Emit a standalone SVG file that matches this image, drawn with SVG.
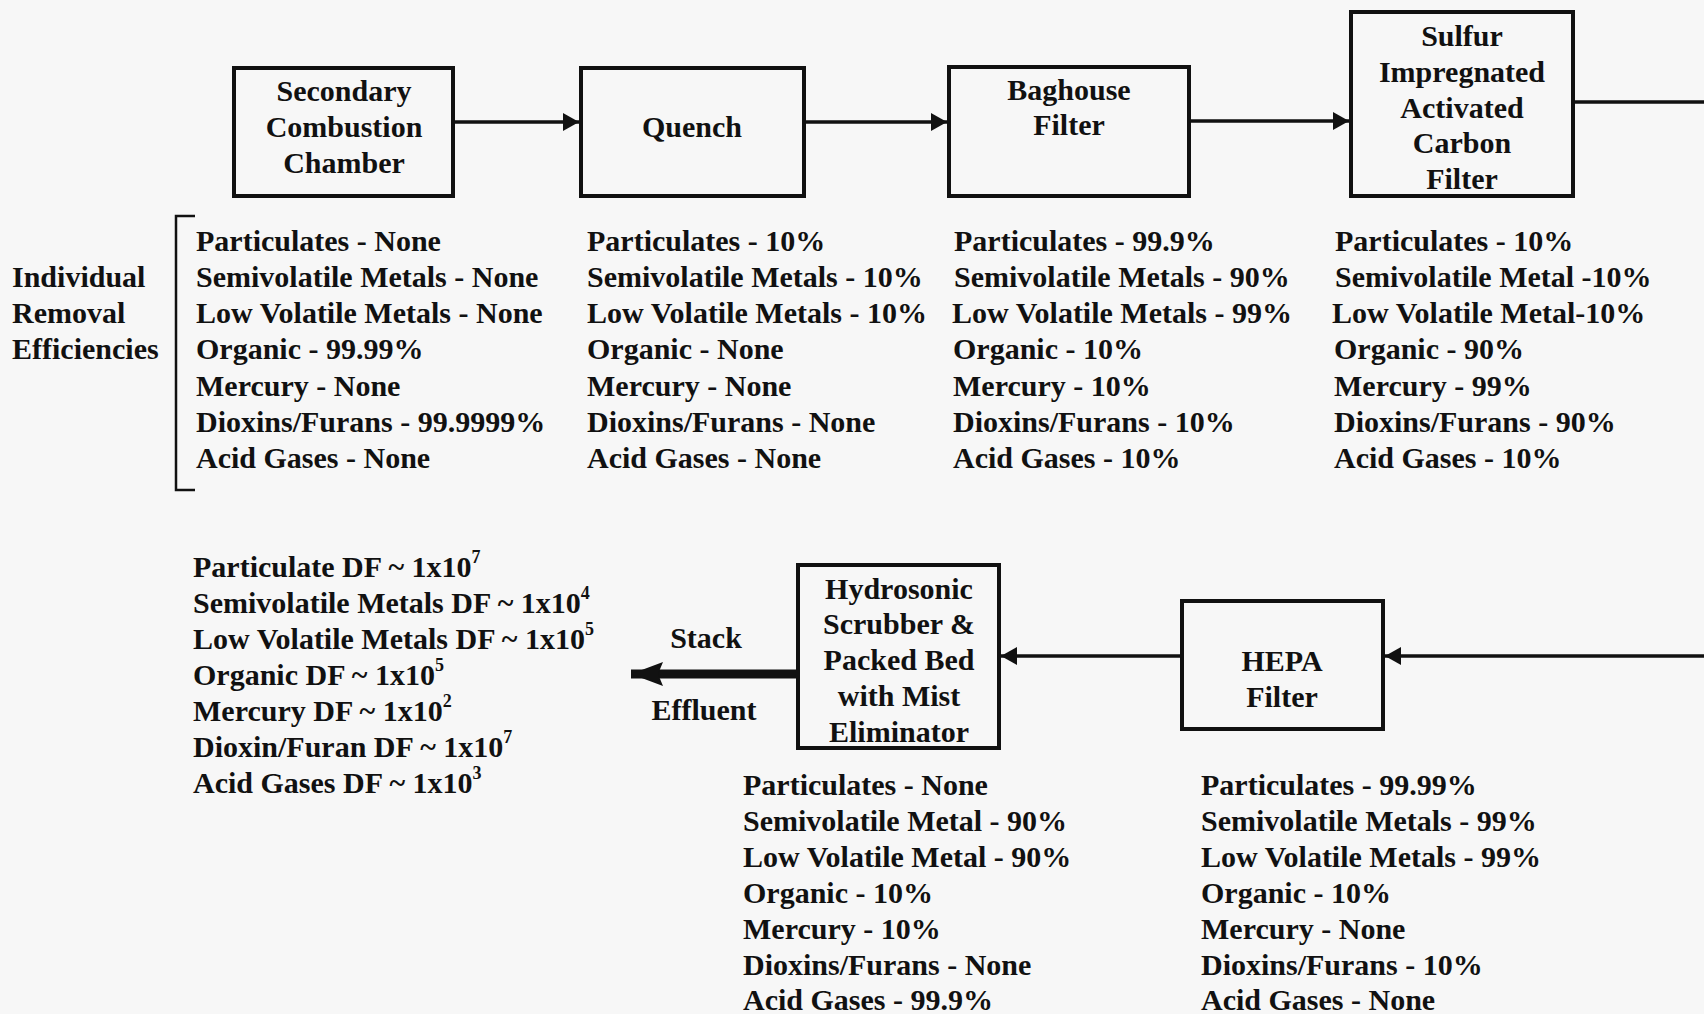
<svg xmlns="http://www.w3.org/2000/svg" width="1704" height="1014" viewBox="0 0 1704 1014">
  <style>
    text { font-family: "Liberation Serif", "Times New Roman", serif; font-weight: bold; font-size: 30px; fill: #111; }
    .lbl { text-anchor: middle; }
    .box { fill: none; stroke: #111; stroke-width: 4; }
    .flow { fill: none; stroke: #111; stroke-width: 3.5; }
    .sup { font-size: 18px; }
  </style>
  <defs>
    <marker id="head" markerUnits="userSpaceOnUse" markerWidth="16" markerHeight="18" refX="16" refY="9" orient="auto">
      <path d="M0,0 L16,9 L0,18 z" fill="#111"/>
    </marker>
    <marker id="bigHead" markerUnits="userSpaceOnUse" markerWidth="32" markerHeight="24" refX="32" refY="12" orient="auto">
      <path d="M0,0 L32,12 L0,24 L5,12 z" fill="#111"/>
    </marker>
  </defs>

  <rect x="0" y="0" width="1704" height="1014" fill="#f7f7f7"/>

  <!-- process units -->
  <g id="secondary-combustion">
    <rect class="box" x="234" y="68" width="219" height="128"/>
    <text class="lbl" x="344" y="101">Secondary</text>
    <text class="lbl" x="344" y="137">Combustion</text>
    <text class="lbl" x="344" y="173">Chamber</text>
  </g>
  <g id="quench">
    <rect class="box" x="581" y="68" width="223" height="128"/>
    <text class="lbl" x="692" y="137">Quench</text>
  </g>
  <g id="baghouse">
    <rect class="box" x="949" y="67" width="240" height="129"/>
    <text class="lbl" x="1069" y="100">Baghouse</text>
    <text class="lbl" x="1069" y="135">Filter</text>
  </g>
  <g id="carbon-filter">
    <rect class="box" x="1351" y="12" width="222" height="184"/>
    <text class="lbl" x="1462" y="46">Sulfur</text>
    <text class="lbl" x="1462" y="82">Impregnated</text>
    <text class="lbl" x="1462" y="118">Activated</text>
    <text class="lbl" x="1462" y="153">Carbon</text>
    <text class="lbl" x="1462" y="189">Filter</text>
  </g>
  <g id="hepa">
    <rect class="box" x="1182" y="601" width="201" height="128"/>
    <text class="lbl" x="1282" y="671">HEPA</text>
    <text class="lbl" x="1282" y="707">Filter</text>
  </g>
  <g id="scrubber">
    <rect class="box" x="798" y="565" width="201" height="183"/>
    <text class="lbl" x="899" y="599">Hydrosonic</text>
    <text class="lbl" x="899" y="634">Scrubber &amp;</text>
    <text class="lbl" x="899" y="670">Packed Bed</text>
    <text class="lbl" x="899" y="706">with Mist</text>
    <text class="lbl" x="899" y="742">Eliminator</text>
  </g>
  <g id="stack">
    <text class="lbl" x="706" y="648">Stack</text>
    <text class="lbl" x="704" y="720">Effluent</text>
  </g>

  <!-- gas flow -->
  <g id="connectors">
    <line class="flow" x1="453" y1="122" x2="579" y2="122" marker-end="url(#head)"/>
    <line class="flow" x1="804" y1="122" x2="947" y2="122" marker-end="url(#head)"/>
    <line class="flow" x1="1189" y1="121" x2="1349" y2="121" marker-end="url(#head)"/>
    <line class="flow" x1="1573" y1="102" x2="1704" y2="102"/>
    <line class="flow" x1="1704" y1="656" x2="1385" y2="656" marker-end="url(#head)"/>
    <line class="flow" x1="1182" y1="656" x2="1001" y2="656" marker-end="url(#head)"/>
    <line x1="798" y1="674" x2="631" y2="674" stroke="#111" stroke-width="9" marker-end="url(#bigHead)"/>
  </g>

  <!-- removal efficiency legend -->
  <g id="efficiency-legend">
    <text x="12" y="287">Individual</text>
    <text x="12" y="323">Removal</text>
    <text x="12" y="359">Efficiencies</text>
    <path d="M195,216 L176,216 L176,490 L195,490" fill="none" stroke="#111" stroke-width="2.5"/>
  </g>

  <g id="efficiency-secondary-combustion">
    <text x="196" y="251">Particulates - None</text>
    <text x="196" y="287">Semivolatile Metals - None</text>
    <text x="196" y="323">Low Volatile Metals - None</text>
    <text x="196" y="359">Organic - 99.99%</text>
    <text x="196" y="396">Mercury - None</text>
    <text x="196" y="432">Dioxins/Furans - 99.9999%</text>
    <text x="196" y="468">Acid Gases - None</text>
  </g>
  <g id="efficiency-quench">
    <text x="587" y="251">Particulates - 10%</text>
    <text x="587" y="287">Semivolatile Metals - 10%</text>
    <text x="587" y="323">Low Volatile Metals - 10%</text>
    <text x="587" y="359">Organic - None</text>
    <text x="587" y="396">Mercury - None</text>
    <text x="587" y="432">Dioxins/Furans - None</text>
    <text x="587" y="468">Acid Gases - None</text>
  </g>
  <g id="efficiency-baghouse">
    <text x="954" y="251">Particulates - 99.9%</text>
    <text x="954" y="287">Semivolatile Metals - 90%</text>
    <text x="952" y="323">Low Volatile Metals - 99%</text>
    <text x="953" y="359">Organic - 10%</text>
    <text x="953" y="396">Mercury - 10%</text>
    <text x="953" y="432">Dioxins/Furans - 10%</text>
    <text x="953" y="468">Acid Gases - 10%</text>
  </g>
  <g id="efficiency-carbon-filter">
    <text x="1335" y="251">Particulates - 10%</text>
    <text x="1335" y="287">Semivolatile Metal -10%</text>
    <text x="1332" y="323">Low Volatile Metal-10%</text>
    <text x="1334" y="359">Organic - 90%</text>
    <text x="1334" y="396">Mercury - 99%</text>
    <text x="1334" y="432">Dioxins/Furans - 90%</text>
    <text x="1334" y="468">Acid Gases - 10%</text>
  </g>
  <g id="efficiency-scrubber">
    <text x="743" y="795">Particulates - None</text>
    <text x="743" y="831">Semivolatile Metal - 90%</text>
    <text x="743" y="867">Low Volatile Metal - 90%</text>
    <text x="743" y="903">Organic - 10%</text>
    <text x="743" y="939">Mercury - 10%</text>
    <text x="743" y="975">Dioxins/Furans - None</text>
    <text x="743" y="1010">Acid Gases - 99.9%</text>
  </g>
  <g id="efficiency-hepa">
    <text x="1201" y="795">Particulates - 99.99%</text>
    <text x="1201" y="831">Semivolatile Metals - 99%</text>
    <text x="1201" y="867">Low Volatile Metals - 99%</text>
    <text x="1201" y="903">Organic - 10%</text>
    <text x="1201" y="939">Mercury - None</text>
    <text x="1201" y="975">Dioxins/Furans - 10%</text>
    <text x="1201" y="1010">Acid Gases - None</text>
  </g>

  <!-- overall decontamination factors -->
  <g id="decontamination-factors">
    <text x="193" y="577">Particulate DF ~ 1x10<tspan class="sup" dy="-14">7</tspan></text>
    <text x="193" y="613">Semivolatile Metals DF ~ 1x10<tspan class="sup" dy="-14">4</tspan></text>
    <text x="193" y="649">Low Volatile Metals DF ~ 1x10<tspan class="sup" dy="-14">5</tspan></text>
    <text x="193" y="685">Organic DF ~ 1x10<tspan class="sup" dy="-14">5</tspan></text>
    <text x="193" y="721">Mercury DF ~ 1x10<tspan class="sup" dy="-14">2</tspan></text>
    <text x="193" y="757">Dioxin/Furan DF ~ 1x10<tspan class="sup" dy="-14">7</tspan></text>
    <text x="193" y="793">Acid Gases DF ~ 1x10<tspan class="sup" dy="-14">3</tspan></text>
  </g>
</svg>
